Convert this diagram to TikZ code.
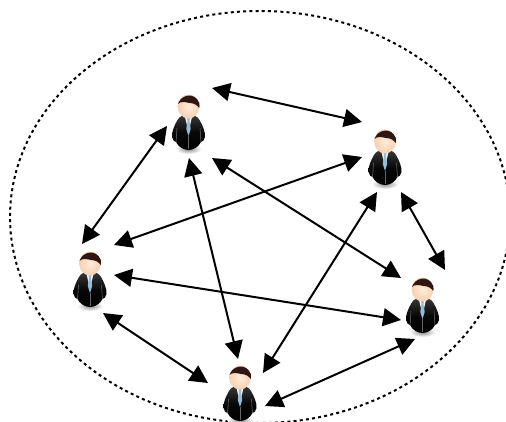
\documentclass[tikz,border=0pt]{standalone}
\usetikzlibrary{arrows.meta,calc}
\definecolor{hairc}{RGB}{48,22,18}
\definecolor{skin}{RGB}{248,208,176}
\definecolor{skinl}{RGB}{255,236,220}
\definecolor{tiec}{RGB}{150,188,216}
\tikzset{
  x=1pt,y=-1pt,
  link/.style={line width=2pt,{Triangle[length=18pt,width=18pt]}-{Triangle[length=18pt,width=18pt]},black},
  personspot/.style={inner sep=0pt,minimum size=30pt,circle},
  boundary/.style={line width=2pt,dash pattern=on 3pt off 3.2pt,black},
  person/.pic={
    % soft ground shadow
    \shade[inner color=black!45,outer color=white] (0,27) ellipse [x radius=13,y radius=5];
    % suit
    \shade[top color=black!78,bottom color=black,middle color=black!97]
      (0,-7) .. controls (-5,-7) and (-9,-6) .. (-11,-2)
      .. controls (-14,3) and (-17,10) .. (-16.5,15)
      .. controls (-16,18) and (-14,20) .. (-12.5,20)
      .. controls (-10,25) and (-5,28) .. (0,28)
      .. controls (5,28) and (10,25) .. (12.5,20)
      .. controls (14,20) and (16,18) .. (16.5,15)
      .. controls (17,10) and (14,3) .. (11,-2)
      .. controls (9,-6) and (5,-7) .. (0,-7) -- cycle;
    % arm folds
    \draw[black!55,line width=.5pt] (-11.5,6) .. controls (-12,12) and (-12,16) .. (-12.5,20);
    \draw[black!55,line width=.5pt] (11.5,6) .. controls (12,12) and (12,16) .. (12.5,20);
    % shirt
    \fill[white!90!tiec] (-3.5,-5) -- (3.5,-5) -- (0,10) -- cycle;
    % tie
    \fill[tiec] (-1.5,-4) -- (1.5,-4) -- (1,-1) -- (2.2,7) -- (0,14) -- (-2.2,7) -- (-1,-1) -- cycle;
    % centre seam
    \draw[black!60,line width=.4pt] (0,14) -- (0,27);
    % face
    \shade[inner color=skinl,outer color=skin]
      (0,-15.5) ellipse [x radius=10.8,y radius=12];
    % hair
    \fill[hairc] (-10.5,-18) .. controls (-8,-27) and (6,-31) .. (10.8,-19)
      .. controls (11.3,-17) and (11,-15) .. (10.7,-14)
      .. controls (9,-17) and (5,-19) .. (1,-19)
      .. controls (-3,-20) and (-8,-21) .. (-10.5,-18) -- cycle;
  }
}
\begin{document}
\begin{tikzpicture}
\useasboundingbox (0,0) rectangle (506,421);
\clip (0,0) rectangle (506,421);
\fill[white] (0,0) rectangle (506,421);
\draw[boundary] (260,217) ellipse [x radius=250,y radius=206];
\node[personspot] (a) at (188.5,122) {};
\node[personspot] (b) at (385,157) {};
\node[personspot] (c) at (90,279) {};
\node[personspot] (d) at (422.5,305) {};
\node[personspot] (e) at (240,393) {};
\path (a) pic {person} (b) pic {person} (c) pic {person} (d) pic {person} (e) pic {person};
\draw[link] ($(a)+(23.5,-34)$) -- ($(b)+(-23,-35)$);
\draw[link] ($(a)+(-21.5,4)$) -- ($(c)+(-8,-35)$);
\draw[link] ($(b)+(-23,0)$) -- ($(c)+(24,-34)$);
\draw[link] ($(a)+(23.5,36)$) -- ($(d)+(-21.5,-27)$);
\draw[link] ($(a)+(0.5,36)$) -- ($(e)+(-2,-34)$);
\draw[link] ($(b)+(-8,35)$) -- ($(e)+(23,-20)$);
\draw[link] ($(b)+(16,35)$) -- ($(d)+(22.5,-35)$);
\draw[link] ($(c)+(24,-4)$) -- ($(d)+(-21.5,15)$);
\draw[link] ($(c)+(13,34)$) -- ($(e)+(-32,-10)$);
\draw[link] ($(e)+(25,13)$) -- ($(d)+(-7.5,34)$);
\end{tikzpicture}
\end{document}
